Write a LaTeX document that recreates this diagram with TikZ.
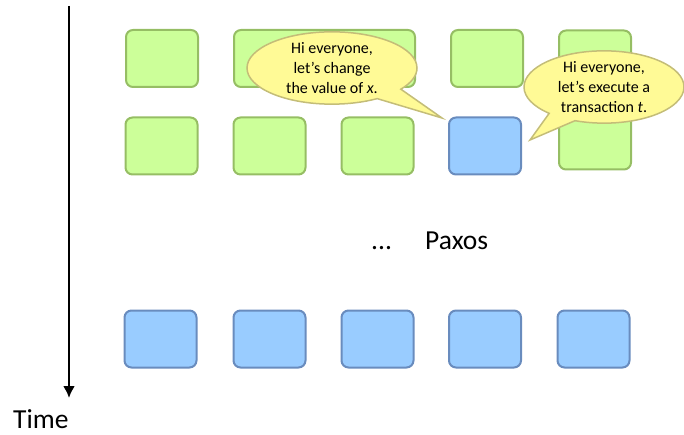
\documentclass[tikz,border=0pt]{standalone}
\usepackage{fontspec}
\setmainfont{Carlito}
\usetikzlibrary{shapes.callouts,arrows.meta}
\definecolor{replicafill}{RGB}{204,255,153}
\definecolor{replicaline}{RGB}{150,190,100}
\definecolor{leaderfill}{RGB}{153,204,255}
\definecolor{leaderline}{RGB}{105,140,190}
\definecolor{bubblefill}{RGB}{255,250,150}
\definecolor{bubbleline}{RGB}{196,189,120}

\begin{document}
\begin{tikzpicture}[
    x=1pt,y=-1pt,
    font={\fontsize{16}{20}\selectfont},
    greenbox/.style={draw=replicaline,fill=replicafill,line width=2pt,rounded corners=7pt,
        minimum width=72pt,minimum height=57pt,inner sep=0pt},
    bluebox/.style={greenbox,draw=leaderline,fill=leaderfill},
    bubble/.style={ellipse callout,draw=bubbleline,fill=bubblefill,line width=1.5pt,
        inner sep=0pt,align=center,callout pointer arc=22},
    txt/.style={font={\fontsize{27.5}{32}\selectfont},inner sep=0pt}
]
    \useasboundingbox (0,0) rectangle (684,435);

    % time axis
    \coordinate (start) at (69,6);
    \coordinate (stop) at (69,398);
    \draw[-{Latex[length=12pt,width=12pt]},line width=2.2pt] (start) -- (stop);
    \node[txt,anchor=base west] (time) at (13,428) {Time};

    % first round
    \node[greenbox] (a1) at (162,58.5) {};
    \node[greenbox,minimum width=181pt] (a2) at (324.5,58.5) {};
    \node[greenbox] (a4) at (487,58.5) {};
    \node[greenbox,minimum height=139pt] (a5) at (595,100) {};

    % second round
    \node[greenbox] (b1) at (161.5,146) {};
    \node[greenbox] (b2) at (269.5,146) {};
    \node[greenbox] (b3) at (377.5,146) {};
    \node[bluebox] (b4) at (485,146) {};

    % after agreement
    \node[txt,anchor=base west] (dots) at (371,250) {...};
    \node[txt,anchor=base west] (paxos) at (425,250) {Paxos};

    \node[bluebox] (c1) at (160.5,339) {};
    \node[bluebox] (c2) at (269.5,339) {};
    \node[bluebox] (c3) at (377.5,339) {};
    \node[bluebox] (c4) at (485,339) {};
    \node[bluebox] (c5) at (593.5,339) {};

    % the two proposals
    \node[bubble,minimum width=170pt,minimum height=64pt,
        callout absolute pointer={(442,118)}] (say1) at (332,68)
        {Hi everyone,\\let’s change\\the value of \textit{x}.};
    \node[bubble,minimum width=160pt,minimum height=70pt,
        callout absolute pointer={(530,140)}] (say2) at (604,87)
        {Hi everyone,\\let’s execute a\\transaction \textit{t}.};

\end{tikzpicture}
\end{document}
